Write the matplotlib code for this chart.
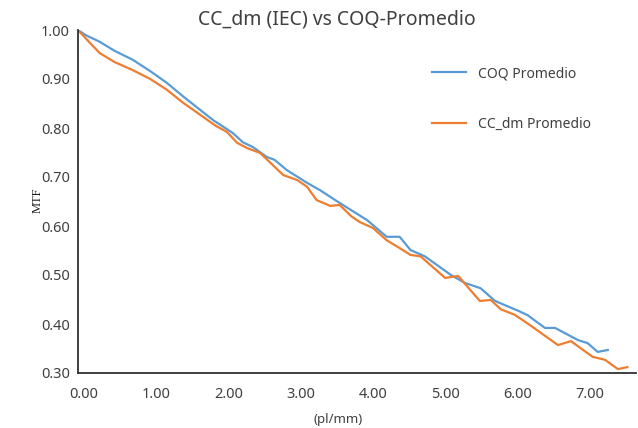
import matplotlib
matplotlib.use("Agg")
import matplotlib.pyplot as plt
import matplotlib.transforms as mtransforms

# COQ Promedio (blue)
coq_x = [0.00, 0.10, 0.30, 0.50, 0.76, 1.00, 1.23, 1.45, 1.69, 1.87, 2.14, 2.28,
         2.42, 2.61, 2.72, 2.89, 3.17, 3.35, 3.62, 4.00, 4.27, 4.45, 4.60, 4.80,
         5.16, 5.35, 5.57, 5.77, 6.09, 6.22, 6.46, 6.60, 6.92, 7.05, 7.19, 7.33]
coq_y = [1.000, 0.990, 0.976, 0.958, 0.939, 0.916, 0.892, 0.865, 0.837, 0.816, 0.790, 0.771,
         0.761, 0.741, 0.735, 0.714, 0.688, 0.673, 0.647, 0.612, 0.578, 0.578, 0.551, 0.538,
         0.500, 0.484, 0.473, 0.447, 0.427, 0.418, 0.392, 0.392, 0.367, 0.361, 0.343, 0.347]

# CC_dm Promedio (orange)
ccdm_x = [0.00, 0.17, 0.30, 0.50, 0.76, 1.00, 1.23, 1.45, 1.69, 1.90, 2.06, 2.20,
          2.34, 2.52, 2.84, 3.03, 3.17, 3.30, 3.49, 3.62, 3.78, 3.90, 4.08, 4.27,
          4.45, 4.60, 4.74, 5.08, 5.26, 5.56, 5.71, 5.85, 6.04, 6.27, 6.64, 6.82,
          7.12, 7.29, 7.47, 7.60]
ccdm_y = [1.000, 0.973, 0.953, 0.935, 0.918, 0.900, 0.878, 0.852, 0.827, 0.805, 0.792, 0.770,
          0.759, 0.749, 0.704, 0.694, 0.680, 0.653, 0.641, 0.643, 0.620, 0.608, 0.596, 0.571,
          0.555, 0.541, 0.538, 0.494, 0.498, 0.447, 0.449, 0.430, 0.419, 0.396, 0.357, 0.365,
          0.333, 0.327, 0.308, 0.312]

x_ticks = [0, 1, 2, 3, 4, 5, 6, 7]
y_ticks = [0.30, 0.40, 0.50, 0.60, 0.70, 0.80, 0.90, 1.00]

plt.rcParams['font.family'] = ['Noto Sans', 'DejaVu Sans']
txt = '#404040'

fig = plt.figure(figsize=(6.38, 4.28), dpi=100)
ax = fig.add_axes([78 / 638, 55 / 428, 558 / 638, 343 / 428])

ax.plot(coq_x, coq_y, color='#5B9BD5', lw=1.6, label='COQ Promedio')
ax.plot(ccdm_x, ccdm_y, color='#ED7D31', lw=1.6, label='CC_dm Promedio')

ax.set_xlim(0, 7.72)
ax.set_ylim(0.30, 1.00)
ax.set_xticks(x_ticks)
ax.set_xticklabels([f'{t:.2f}' for t in x_ticks])
ax.set_yticks(y_ticks)
ax.set_yticklabels([f'{t:.2f}' for t in y_ticks])
ax.tick_params(length=0, labelsize=10.5, labelcolor=txt, pad=6)
ax.tick_params(axis='x', pad=10)
# tick labels sit a bit to the right of the data positions
offset = mtransforms.ScaledTranslation(6 / 100, 0, fig.dpi_scale_trans)
for lab in ax.get_xticklabels():
    lab.set_transform(lab.get_transform() + offset)

for s in ['top', 'right']:
    ax.spines[s].set_visible(False)
for s in ['left', 'bottom']:
    ax.spines[s].set_color('#303030')
    ax.spines[s].set_linewidth(1.3)

fig.text(337 / 638, 1 - 20 / 428, 'CC_dm (IEC) vs COQ-Promedio', ha='center', va='center',
         fontsize=14, color=txt)
fig.text(38 / 638, 1 - 200 / 428, 'MTF', rotation=90, ha='center', va='center',
         fontsize=9, color='#202020', family='Liberation Serif')
fig.text(338 / 638, 1 - 419 / 428, '(pl/mm)', ha='center', va='center',
         fontsize=9.5, color=txt)

ax.legend(loc='upper left', bbox_to_anchor=(432 / 638, 1 - 66 / 428),
          bbox_transform=fig.transFigure, frameon=False, fontsize=10,
          labelspacing=2.6, handlelength=2.45, handletextpad=0.85,
          borderpad=0, borderaxespad=0, labelcolor=txt)

fig.savefig('out.png', dpi=100)
